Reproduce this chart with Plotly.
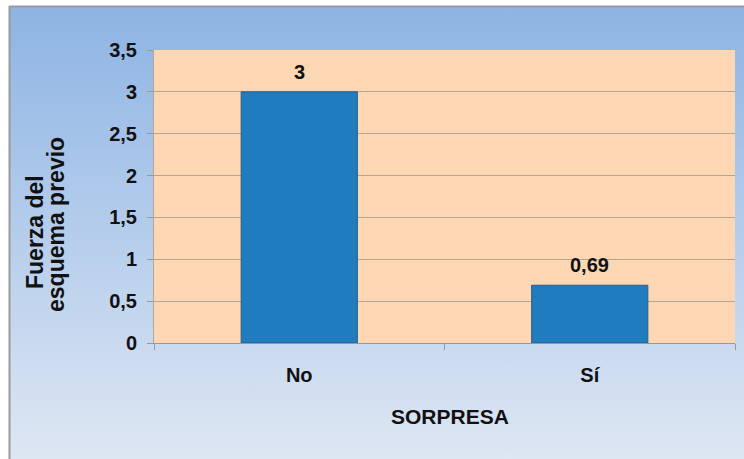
import base64
import plotly.graph_objects as go

# ---- data ----
categories = ["No", "Sí"]
values = [3, 0.69]
y_ticks = [0, 0.5, 1, 1.5, 2, 2.5, 3, 3.5]
x_title = "SORPRESA"
y_title_lines = ["Fuerza del", "esquema previo"]

W, H = 744, 459
L, R, T, B = 154, 9, 50, 116
PW, PH = W - L - R, H - T - B

FONT = "Liberation Sans, Arial, sans-serif"

def fmt(v):
    s = ("%g" % v)
    return s.replace(".", ",")

# background (gradient panel with white border + grey frame)
svg = f'''<svg xmlns="http://www.w3.org/2000/svg" width="{W}" height="{H}" viewBox="0 0 {W} {H}" preserveAspectRatio="none">
<defs><linearGradient id="g" x1="0" y1="0" x2="0" y2="1">
<stop offset="0" stop-color="#8db4e3"/><stop offset="0.5" stop-color="#b5cdec"/><stop offset="1" stop-color="#dee7f3"/></linearGradient></defs>
<rect x="0" y="0" width="{W}" height="{H}" fill="#ffffff"/>
<rect x="9" y="6" width="{W-9}" height="{H-6}" fill="url(#g)"/>
<line x1="9" y1="6.5" x2="{W}" y2="6.5" stroke="#9a9a9a" stroke-width="2"/>
<line x1="9.5" y1="6" x2="9.5" y2="{H}" stroke="#9a9a9a" stroke-width="2"/>
</svg>'''
src = "data:image/svg+xml;base64," + base64.b64encode(svg.encode()).decode()

fig = go.Figure()
fig.add_trace(go.Bar(
    x=categories, y=values,
    marker=dict(color="#1f7dbf", line=dict(color="#2a5d88", width=1)),
))

def px_x(px):
    return (px - L) / PW

def px_y(py):
    return (H - B - py) / PH

label_font = dict(family=FONT, size=20, color="#111111", weight="bold")
annotations = [
    dict(text=fmt(v), x=c, y=v, xref="x", yref="y", showarrow=False,
         xanchor="center", yanchor="bottom", yshift=7, font=label_font)
    for c, v in zip(categories, values)
]
annotations += [
    dict(text=x_title, x=px_x(450), y=px_y(416), xref="paper", yref="paper",
         showarrow=False, xanchor="center", yanchor="middle",
         font=dict(family=FONT, size=21, color="#111111", weight="bold")),
    dict(text=y_title_lines[0], x=px_x(35), y=px_y(232), xref="paper", yref="paper",
         showarrow=False, xanchor="center", yanchor="middle", textangle=-90,
         font=dict(family=FONT, size=23, color="#111111", weight="bold")),
    dict(text=y_title_lines[1], x=px_x(56), y=px_y(225), xref="paper", yref="paper",
         showarrow=False, xanchor="center", yanchor="middle", textangle=-90,
         font=dict(family=FONT, size=23, color="#111111", weight="bold")),
]

fig.update_layout(
    width=W, height=H,
    margin=dict(l=L, r=R, t=T, b=B, pad=0),
    paper_bgcolor="#ffffff",
    plot_bgcolor="rgba(0,0,0,0)",
    separators=",.",
    showlegend=False,
    bargap=0.6,
    images=[dict(source=src, xref="paper", yref="paper", x=-L / PW, y=1 + T / PH,
                 sizex=W / PW, sizey=H / PH, xanchor="left", yanchor="top",
                 sizing="stretch", layer="below")],
    shapes=[dict(type="rect", xref="x domain", yref="y domain", x0=0, x1=1, y0=0, y1=1,
                 fillcolor="#fdd7b4", line=dict(width=0), layer="below")],
    annotations=annotations,
    xaxis=dict(
        type="category", showgrid=False, showline=True, linecolor="#9b9790", linewidth=1,
        ticks="outside", tickson="boundaries", ticklen=6, tickcolor="#9b9790",
        ticklabelstandoff=14,
        tickfont=dict(family=FONT, size=20, color="#111111", weight="bold"),
    ),
    yaxis=dict(
        range=[0, 3.5], tickvals=y_ticks, showgrid=True, gridcolor="#b5a594", gridwidth=1,
        showline=True, linecolor="#b5a594", linewidth=1, zeroline=False,
        ticks="outside", ticklen=6, tickcolor="#9b9790", ticklabelstandoff=6,
        tickfont=dict(family=FONT, size=20, color="#111111", weight="bold"),
    ),
)

fig.write_html("out.html")
